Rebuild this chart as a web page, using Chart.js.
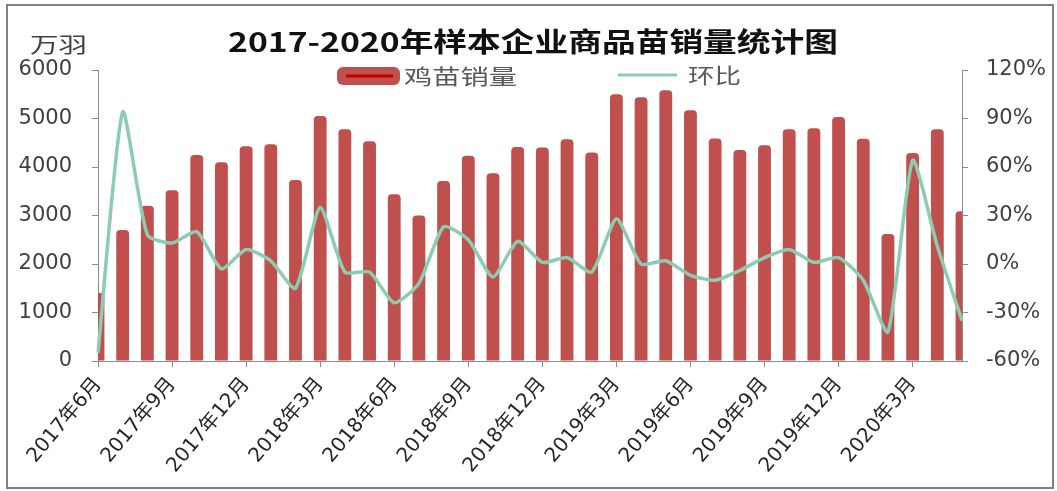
<!DOCTYPE html>
<html><head><meta charset="utf-8">
<script src="https://cdn.jsdelivr.net/npm/chart.js@4.4.1/dist/chart.umd.min.js"></script>
<style>html,body{margin:0;padding:0;background:#fff;}#wrap{width:1057px;height:491px;position:relative;}</style>
</head><body><div id="wrap"><canvas id="c" width="1057" height="491"></canvas></div>
<script>
const categories = [
 "2017年6月","2017年7月","2017年8月","2017年9月","2017年10月","2017年11月","2017年12月",
 "2018年1月","2018年2月","2018年3月","2018年4月","2018年5月","2018年6月","2018年7月","2018年8月","2018年9月","2018年10月","2018年11月","2018年12月",
 "2019年1月","2019年2月","2019年3月","2019年4月","2019年5月","2019年6月","2019年7月","2019年8月","2019年9月","2019年10月","2019年11月","2019年12月",
 "2020年1月","2020年2月","2020年3月","2020年4月","2020年5月"
];
const salesValues = [1400,2700,3200,3520,4250,4100,4430,4470,3730,5050,4780,4530,3440,3000,3710,4230,3870,4410,4400,4570,4300,5500,5440,5580,5170,4590,4350,4450,4780,4800,5030,4580,2620,4290,4780,3090];
const momValues = [-55,94,18,13,20,-3,9,2,-15,35,-5,-5,-24,-12,23,15,-8,14,1,4,-5,28,0,2,-7,-10,-4,4,9,1,4,-10,-42,64,11,-35];
const shownTickLabels = ["2017年6月","2017年9月","2017年12月","2018年3月","2018年6月","2018年9月","2018年12月","2019年3月","2019年6月","2019年9月","2019年12月","2020年3月"];
const leftAxis = {min:0, max:6000, step:1000, unit:"万羽"};
const rightAxis = {min:-60, max:120, step:30};
const titleText = "2017-2020年样本企业商品苗销量统计图";
const seriesNames = ["鸡苗销量","环比"];

const BAR_COLOR = '#c0504d';
const LINE_COLOR = '#8ccdb2';
const AXIS_COLOR = '#8c8c8c';
const TICK_FONT = {family:"'DejaVu Sans','Noto Sans CJK SC',sans-serif", size:21};

function drawStretched(ctx, text, x, y, font, color, targetW, align){
  ctx.save();
  ctx.font = font;
  const w = ctx.measureText(text).width;
  const s = targetW / w;
  ctx.translate(x, y);
  ctx.scale(s, 1);
  ctx.fillStyle = color;
  ctx.textBaseline = 'middle';
  ctx.textAlign = align || 'left';
  ctx.fillText(text, 0, 0);
  ctx.restore();
}

const decor = {
  id:'decor',
  beforeDraw(chart){
    const ctx = chart.ctx;
    ctx.save(); ctx.fillStyle='#fff'; ctx.fillRect(0,0,chart.width,chart.height); ctx.restore();
  },
  afterDraw(chart){
    const ctx = chart.ctx;
    const cjk = "'Noto Sans CJK SC',sans-serif";
    drawStretched(ctx, titleText, 533, 42, "bold 27px "+cjk, '#111', 610, 'center');
    drawStretched(ctx, leftAxis.unit, 30, 44, "21px "+cjk, '#404040', 57, 'left');
    ctx.save();
    ctx.fillStyle = BAR_COLOR;
    ctx.beginPath();
    ctx.roundRect(337, 67, 63, 18, 6);
    ctx.fill();
    ctx.strokeStyle = '#c00000'; ctx.lineWidth = 3;
    ctx.beginPath(); ctx.moveTo(346, 76); ctx.lineTo(393, 76); ctx.stroke();
    ctx.strokeStyle = LINE_COLOR; ctx.lineWidth = 3;
    ctx.beginPath(); ctx.moveTo(618, 75); ctx.lineTo(677, 75); ctx.stroke();
    ctx.restore();
    drawStretched(ctx, seriesNames[0], 404, 76, "21px "+cjk, '#595959', 113, 'left');
    drawStretched(ctx, seriesNames[1], 688, 75, "21px "+cjk, '#595959', 53, 'left');
    ctx.save();
    ctx.strokeStyle = '#808080'; ctx.lineWidth = 2;
    ctx.strokeRect(7, 5, 1046, 483);
    ctx.restore();
  }
};

new Chart(document.getElementById('c'), {
  data: {
    labels: categories,
    datasets: [
      {type:'line', label: seriesNames[1], data: momValues, yAxisID:'y1', borderColor: LINE_COLOR,
       borderWidth: 3.5, pointRadius: 0, tension: 0.2, order: 0},
      {type:'bar', label: seriesNames[0], data: salesValues, yAxisID:'y', backgroundColor: BAR_COLOR,
       barPercentage: 0.52, categoryPercentage: 1, clip: 0, order: 1,
       borderRadius: {topLeft:4, topRight:4, bottomLeft:0, bottomRight:0}, borderSkipped:'bottom'}
    ]
  },
  options: {
    responsive: false,
    animation: false,
    layout: {padding: {top: 70, left: 0, right: 0, bottom: 0}},
    plugins: {legend: {display:false}, title:{display:false}, tooltip:{enabled:false}},
    scales: {
      x: {
        offset: false,
        grid: {display:true, drawOnChartArea:false, offset:false, tickLength:6,
               tickColor: (c) => (c.index % 3 === 0 ? AXIS_COLOR : 'rgba(0,0,0,0)')},
        border: {display:true, color: AXIS_COLOR, width:1},
        ticks: {autoSkip:false, minRotation:50, maxRotation:50, color:'#262626', padding:6,
                font:{family:"'DejaVu Sans','Noto Sans CJK SC',sans-serif", size:20},
                callback: (v, i) => shownTickLabels.includes(categories[i]) ? categories[i] : ''},
        afterFit: (s) => { s.height = 130; }
      },
      y: {
        position:'left', min:leftAxis.min, max:leftAxis.max,
        grid: {display:true, drawOnChartArea:false, tickLength:6, tickColor: AXIS_COLOR},
        border: {display:true, color: AXIS_COLOR, width:1},
        ticks: {stepSize:leftAxis.step, color:'#404040', padding:20, font:TICK_FONT,
                callback: (v) => String(v)},
        afterFit: (s) => { s.width = 98; }
      },
      y1: {
        position:'right', min:rightAxis.min, max:rightAxis.max,
        grid: {display:true, drawOnChartArea:false, tickLength:6, tickColor: AXIS_COLOR},
        border: {display:true, color: AXIS_COLOR, width:1},
        ticks: {stepSize:rightAxis.step, color:'#404040', padding:18, font:TICK_FONT,
                callback: (v) => v + '%'},
        afterFit: (s) => { s.width = 95; }
      }
    }
  },
  plugins: [decor]
});
</script>
</body></html>
